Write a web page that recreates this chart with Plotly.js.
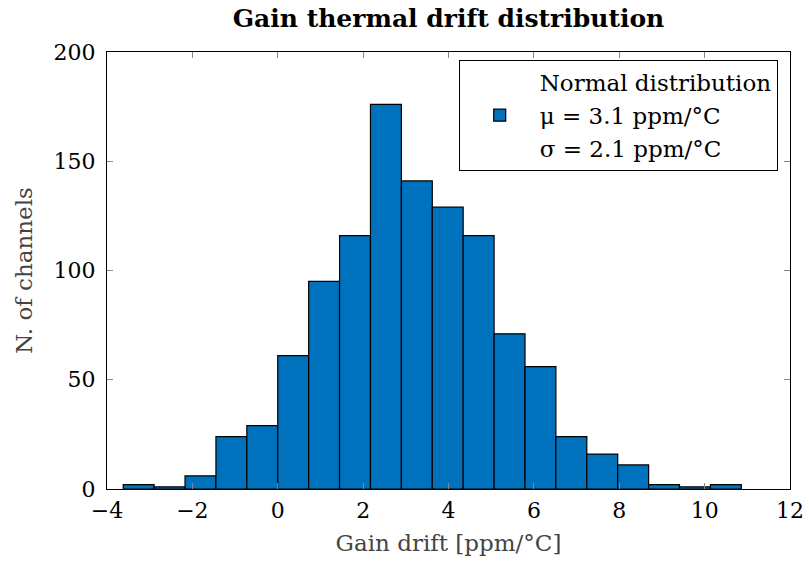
<!DOCTYPE html>
<html>
<head>
<meta charset="utf-8">
<script src="https://cdn.plot.ly/plotly-3.0.1.min.js"></script>
<style>html,body{margin:0;padding:0;background:#fff;}#chart{width:809px;height:572px;}</style>
</head>
<body>
<div id="chart"></div>
<script>
// Histogram bins (lower edges, ppm/°C) and channel counts
const binLow = [-3.62, -2.896, -2.172, -1.448, -0.724, 0.0, 0.724, 1.448, 2.172, 2.896,
                3.62, 4.344, 5.068, 5.792, 6.516, 7.24, 7.964, 8.688, 9.412, 10.136];
const binWidth = 0.724;
const counts = [2, 1, 6, 24, 29, 61, 95, 116, 176, 141,
                129, 116, 71, 56, 24, 16, 11, 2, 1, 2];
const legendLines = ["Normal distribution", "μ = 3.1 ppm/°C", "σ = 2.1 ppm/°C"];
const xTicks = [-4, -2, 0, 2, 4, 6, 8, 10, 12];
const yTicks = [0, 50, 100, 150, 200];

const FONT = "DejaVu Serif, Liberation Serif, serif";
const binCenters = binLow.map(v => v + binWidth / 2);

const traces = [
  {type: 'scatter', x: [null], y: [null], mode: 'lines', line: {width: 0, color: 'rgba(0,0,0,0)'},
   name: legendLines[0], legendrank: 1, hoverinfo: 'skip'},
  {type: 'bar', x: binCenters, y: counts, width: binCenters.map(() => binWidth),
   marker: {color: '#0072BD', line: {color: '#000', width: 1.2}},
   name: legendLines[1], legendrank: 2},
  {type: 'scatter', x: [null], y: [null], mode: 'lines', line: {width: 0, color: 'rgba(0,0,0,0)'},
   name: legendLines[2], legendrank: 3, hoverinfo: 'skip'}
];

const layout = {
  width: 809, height: 572,
  margin: {l: 107, r: 19, t: 52, b: 83},
  paper_bgcolor: '#fff', plot_bgcolor: '#fff',
  font: {family: FONT, size: 22, color: '#000'},
  title: {text: '<b>Gain thermal drift distribution</b>', x: 0.5, xref: 'paper', y: 0.968, yref: 'container',
          yanchor: 'middle', font: {family: FONT, size: 25, color: '#000'}},
  bargap: 0,
  showlegend: true,
  legend: {x: 0.982, y: 0.982, xanchor: 'right', yanchor: 'top', bgcolor: '#fff',
           bordercolor: '#000', borderwidth: 1, font: {family: FONT, size: 23},
           traceorder: 'normal', itemwidth: 70},
  xaxis: {range: [-4, 12], tickvals: xTicks, ticktext: xTicks.map(v => v < 0 ? '−' + Math.abs(v) : String(v)),
          ticks: 'inside', ticklen: 6, tickcolor: '#888', showline: true, linecolor: '#000', linewidth: 1,
          mirror: 'ticks', showgrid: false, zeroline: false, ticklabelstandoff: 2,
          tickfont: {family: FONT, size: 22},
          title: {text: 'Gain drift [ppm/°C]', font: {family: FONT, size: 23, color: '#444'}, standoff: 12}},
  yaxis: {range: [0, 200], tickvals: yTicks, ticks: 'inside', ticklen: 6, tickcolor: '#888',
          showline: true, linecolor: '#000', linewidth: 1, mirror: 'ticks', showgrid: false, zeroline: false,
          ticklabelstandoff: 6,
          tickfont: {family: FONT, size: 22},
          title: {text: 'N. of channels', font: {family: FONT, size: 23, color: '#444'}, standoff: 14}}
};

Plotly.newPlot('chart', traces, layout, {displayModeBar: false, staticPlot: true});
</script>
</body>
</html>
